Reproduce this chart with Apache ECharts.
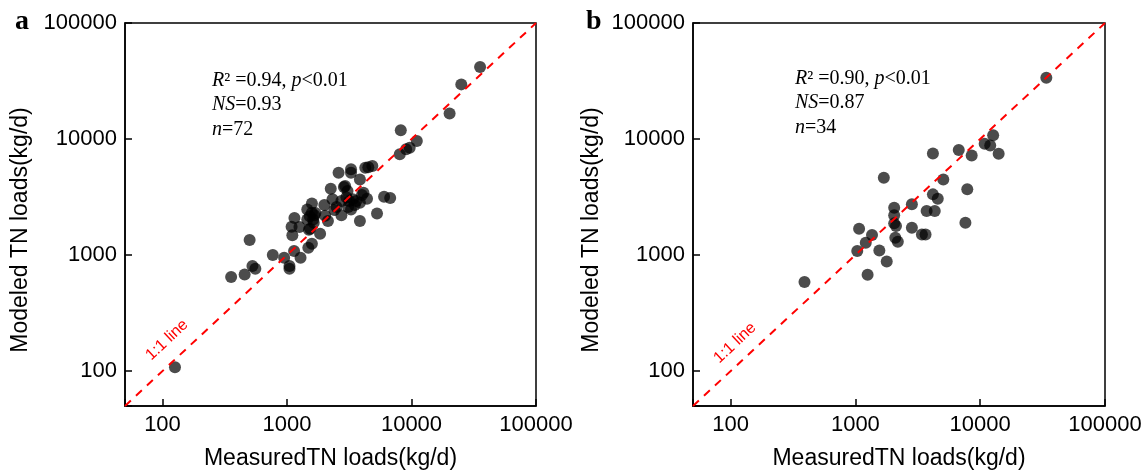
<!DOCTYPE html>
<html>
<head>
<meta charset="utf-8">
<script src="https://cdn.jsdelivr.net/npm/echarts@6/dist/echarts.min.js"></script>
<style>
  html, body { margin: 0; padding: 0; background: #fff; }
  #chart { width: 1148px; height: 474px; }
</style>
</head>
<body>
<div id="chart"></div>
<script>
// a: measured vs modeled TN loads (kg/d)
var measuredA = [126, 356, 457, 501, 528, 557, 769, 949, 1047, 1047, 1140, 1285, 1089, 1104, 1148, 1259,
  1484, 1585, 1534, 1455, 1455, 1585, 1585, 1660, 1845, 1995, 2024, 2132, 2246, 2321, 2399, 2596,
  2735, 2735, 2865, 2930, 3062, 3162, 3268, 3268, 3268, 3377, 3606, 3852, 3852, 3852, 4114, 4253,
  4394, 4500, 4849, 5285, 6024, 6745, 8050, 8203, 9057, 9675, 11040, 20230, 25120, 35560,
  1524, 1622, 1690, 3000, 3500, 2500, 1640, 1500, 3100, 4000];
var modeledA = [108, 646, 681, 1346, 803, 762, 1000, 949, 803, 763, 1082, 949, 1754, 1479, 2084, 1742,
  1156, 1253, 1687, 2029, 2475, 2787, 2317, 2198, 1528, 2697, 2183, 1965, 3733, 3020, 2443, 5129,
  2198, 2924, 3855, 3930, 3565, 2924, 5484, 5130, 2475, 3020, 2924, 1965, 4487, 2822, 3443, 5666,
  3062, 5700, 5848, 2286, 3185, 3099, 7383, 11890, 8150, 8420, 9615, 16630, 29580, 41780,
  2163, 2029, 2300, 3150, 2700, 2600, 1900, 1650, 2600, 3300];

// b
var measuredB = [391, 1035, 1071, 1253, 1211, 1359, 1556, 1783, 1690, 2046, 2046, 2046, 2115, 2089, 2188,
  2836, 2836, 3412, 3650, 3724, 4180, 4180, 4325, 4571, 5063, 6735, 7614, 7880, 8547, 10860, 12030,
  12700, 14060, 33880];
var modeledB = [585, 1082, 1687, 676, 1277, 1486, 1096, 881, 4645, 2559, 2198, 1875, 1778, 1409, 1303,
  2735, 1722, 1507, 1507, 2393, 7516, 3334, 2393, 3061, 4487, 8035, 1900, 3684, 7222, 9120, 8810,
  10770, 7480, 33800];

var oneToOne = [50, 100000];
var axisRange = [50, 100000];

var statsA = ['0.94', '0.93', '72'];
var statsB = ['0.90', '0.87', '34'];

function pairs(xs, ys) {
  return xs.map(function (x, i) { return [x, ys[i]]; });
}

function decadeLabel(v) {
  var e = Math.log10(v);
  return Math.abs(e - Math.round(e)) < 1e-6 ? String(Math.round(v)) : '';
}

var sans = 'Liberation Sans';
var serif = 'Liberation Serif';

function makeAxis(dim, idx) {
  var ax = {
    type: 'log',
    logBase: 10,
    gridIndex: idx,
    min: axisRange[0],
    max: axisRange[1],
    axisLine: { show: true, onZero: false, lineStyle: { color: '#000', width: 1.5 } },
    axisTick: { show: true, inside: true, length: 7, lineStyle: { color: '#000', width: 1.5 } },
    axisLabel: { fontFamily: sans, fontSize: 22, color: '#000', margin: 8, formatter: decadeLabel },
    splitLine: { show: false },
    minorTick: { show: false }
  };
  if (dim === 'x') {
    ax.name = 'MeasuredTN loads(kg/d)';
    ax.nameLocation = 'middle';
    ax.nameGap = 41;
    ax.nameTextStyle = { fontFamily: sans, fontSize: 23, color: '#000' };
  }
  return ax;
}

function statsText(x, y, s) {
  var base = { fontFamily: serif, fontSize: 20, fill: '#000' };
  var it = { fontFamily: serif, fontSize: 20, fontStyle: 'italic', color: '#000' };
  var nm = { fontFamily: serif, fontSize: 20, color: '#000' };
  var rows = [
    '{i|R}{n|\u00b2 =' + s[0] + ', }{i|p}{n|<0.01}',
    '{i|NS}{n|=' + s[1] + '}',
    '{i|n}{n|=' + s[2] + '}'
  ];
  return rows.map(function (t, k) {
    return {
      type: 'text', x: x, y: y + k * 24.5,
      style: Object.assign({ text: t, textAlign: 'left', textVerticalAlign: 'middle', rich: { i: it, n: nm } }, base)
    };
  });
}

var chart = echarts.init(document.getElementById('chart'));

var graphics = [
  { type: 'text', x: 15, y: 22, style: { text: 'a', font: 'bold 28px "Liberation Serif"', fill: '#000', textAlign: 'left', textVerticalAlign: 'middle' } },
  { type: 'text', x: 586, y: 22, style: { text: 'b', font: 'bold 28px "Liberation Serif"', fill: '#000', textAlign: 'left', textVerticalAlign: 'middle' } },
  { type: 'text', x: 21, y: 230, rotation: Math.PI / 2, style: { text: 'Modeled TN loads(kg/d)', font: '23px "Liberation Sans"', fill: '#000', textAlign: 'center', textVerticalAlign: 'middle' } },
  { type: 'text', x: 592, y: 230, rotation: Math.PI / 2, style: { text: 'Modeled TN loads(kg/d)', font: '23px "Liberation Sans"', fill: '#000', textAlign: 'center', textVerticalAlign: 'middle' } },
  { type: 'text', x: 167, y: 340, rotation: 0.75, style: { text: '1:1 line', font: '16px "Liberation Sans"', fill: '#ff0000', textAlign: 'center', textVerticalAlign: 'middle' } },
  { type: 'text', x: 735, y: 343, rotation: 0.75, style: { text: '1:1 line', font: '16px "Liberation Sans"', fill: '#ff0000', textAlign: 'center', textVerticalAlign: 'middle' } }
].concat(statsText(212, 80.7, statsA), statsText(795, 78.3, statsB));

var dotStyle = { color: '#000', opacity: 0.7 };
var dashStyle = { color: '#ff0000', width: 2, type: [8, 7] };

var option = {
  animation: false,
  backgroundColor: '#fff',
  grid: [
    { left: 125, top: 23, width: 411, height: 383, show: true, borderColor: '#000', borderWidth: 1.5, containLabel: false, outerBoundsMode: 'none' },
    { left: 693, top: 23, width: 412, height: 383, show: true, borderColor: '#000', borderWidth: 1.5, containLabel: false, outerBoundsMode: 'none' }
  ],
  xAxis: [makeAxis('x', 0), makeAxis('x', 1)],
  yAxis: [makeAxis('y', 0), makeAxis('y', 1)],
  series: [
    { type: 'scatter', xAxisIndex: 0, yAxisIndex: 0, symbolSize: 12, itemStyle: dotStyle, data: pairs(measuredA, modeledA), z: 2 },
    { type: 'scatter', xAxisIndex: 1, yAxisIndex: 1, symbolSize: 12, itemStyle: dotStyle, data: pairs(measuredB, modeledB), z: 2 },
    { type: 'line', xAxisIndex: 0, yAxisIndex: 0, symbol: 'none', lineStyle: dashStyle, data: pairs(oneToOne, oneToOne), z: 3 },
    { type: 'line', xAxisIndex: 1, yAxisIndex: 1, symbol: 'none', lineStyle: dashStyle, data: pairs(oneToOne, oneToOne), z: 3 }
  ],
  graphic: graphics
};

chart.setOption(option);
</script>
</body>
</html>
